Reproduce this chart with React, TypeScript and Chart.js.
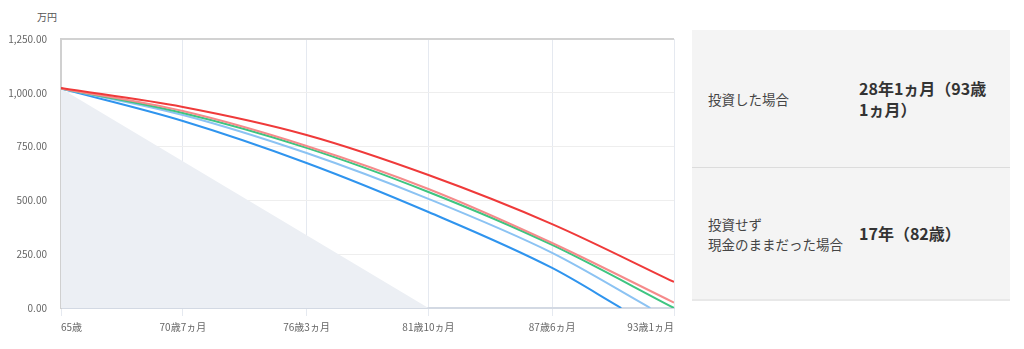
import React, { useEffect, useRef } from "react";
import { Chart, registerables } from "chart.js";

Chart.register(...registerables);

// ---- data ----
const tickMonths = [0, 67, 135, 202, 270, 337];
const tickLabels = ["65歳", "70歳7ヵ月", "76歳3ヵ月", "81歳10ヵ月", "87歳6ヵ月", "93歳1ヵ月"];
const yTicks = [0, 250, 500, 750, 1000, 1250];

const monthsFull = [0, 67, 135, 202, 270, 337];
const redValues = [1022, 934, 804, 618, 390, 121];
const pinkValues = [1020, 915, 753, 553, 302, 25];
const greenValues = [1020, 906, 744, 539, 293, 0];

const lightBlueMonths = [0, 67, 135, 202, 270, 324];
const lightBlueValues = [1020, 897, 720, 507, 256, 0];

const blueMonths = [0, 67, 135, 202, 270, 308];
const blueValues = [1020, 869, 674, 446, 186, 0];

const cashMonths = [0, 202];
const cashValues = [1020, 0];

const rows = [
  { label: ["投資した場合"], value: ["28年1ヵ月（93歳", "1ヵ月）"] },
  { label: ["投資せず", "現金のままだった場合"], value: ["17年（82歳）"] },
];

const pts = (xs: number[], ys: number[]) => xs.map((x, i) => ({ x, y: ys[i] }));

const FONT = "'Noto Sans CJK JP', 'Noto Sans', sans-serif";

export default function App() {
  const ref = useRef<HTMLCanvasElement | null>(null);

  useEffect(() => {
    if (!ref.current) return;
    const line = (data: any, color: string) => ({
      data,
      borderColor: color,
      borderWidth: 2,
      pointRadius: 0,
      fill: false,
      cubicInterpolationMode: "monotone" as const,
    });
    const chart = new Chart(ref.current, {
      type: "line",
      data: {
        datasets: [
          line(pts(monthsFull, redValues), "#ef3a3a"),
          line(pts(monthsFull, pinkValues), "#f58b8b"),
          line(pts(monthsFull, greenValues), "#3ec581"),
          line(pts(lightBlueMonths, lightBlueValues), "#8cc3f3"),
          line(pts(blueMonths, blueValues), "#2f94ee"),
          {
            data: pts(cashMonths, cashValues),
            borderWidth: 0,
            borderColor: "rgba(0,0,0,0)",
            backgroundColor: "#eceff4",
            pointRadius: 0,
            fill: "origin",
            tension: 0,
          },
        ],
      },
      options: {
        responsive: false,
        animation: false,
        events: [],
        layout: { padding: { top: 39, right: 26, bottom: 0, left: 0 } },
        plugins: { legend: { display: false }, tooltip: { enabled: false } },
        scales: {
          x: {
            type: "linear",
            min: tickMonths[0],
            max: tickMonths[tickMonths.length - 1],
            afterBuildTicks: (s: any) => {
              s.ticks = tickMonths.map((v) => ({ value: v }));
            },
            afterFit: (s: any) => {
              s.height = 41;
            },
            ticks: {
              autoSkip: false,
              maxRotation: 0,
              align: "inner",
              padding: 5,
              color: "#666",
              font: { family: FONT, size: 10 },
              callback: (v: any) => {
                const i = tickMonths.indexOf(Number(v));
                return i >= 0 ? tickLabels[i] : "";
              },
            },
            grid: {
              color: "#e5e9f0",
              tickColor: "#e5e9f0",
              tickLength: 8,
              lineWidth: 1,
            },
            border: { color: "#d3d9e3", width: 2 },
          },
          y: {
            min: yTicks[0],
            max: yTicks[yTicks.length - 1],
            afterBuildTicks: (s: any) => {
              s.ticks = yTicks.map((v) => ({ value: v }));
            },
            afterFit: (s: any) => {
              s.width = 61;
            },
            ticks: {
              padding: 14,
              color: "#666",
              font: { family: FONT, size: 10 },
              callback: (v: any) =>
                Number(v).toLocaleString("en-US", {
                  minimumFractionDigits: 2,
                  maximumFractionDigits: 2,
                }),
            },
            grid: {
              drawTicks: false,
              color: (c: any) => (c.tick && c.tick.value === 1250 ? "#d2d2d2" : "#eeeeee"),
              lineWidth: (c: any) => (c.tick && c.tick.value === 1250 ? 2 : 1),
            },
            border: { color: "#d0d0d0", width: 2 },
          },
        },
      },
    });
    return () => chart.destroy();
  }, []);

  return (
    <div
      style={{
        position: "fixed",
        left: 0,
        top: 0,
        width: 1024,
        height: 349,
        background: "#fff",
        fontFamily: FONT,
      }}
    >
      <div
        style={{
          position: "absolute",
          left: 37,
          top: 10,
          fontSize: 10,
          color: "#555",
          lineHeight: "14px",
        }}
      >
        万円
      </div>
      <canvas
        ref={ref}
        width={700}
        height={349}
        style={{ position: "absolute", left: 0, top: 0, width: 700, height: 349 }}
      />
      <div
        style={{
          position: "absolute",
          left: 692,
          top: 30,
          width: 318,
          background: "#f4f4f4",
        }}
      >
        {rows.map((r, i) => (
          <div
            key={i}
            style={{
              height: i === 0 ? 137 : 131,
              display: "flex",
              alignItems: "center",
              borderBottom: i === 0 ? "1px solid #dcdcdc" : "2px solid #e8e8e8",
            }}
          >
            <div
              style={{
                width: 167,
                flexShrink: 0,
                paddingLeft: 16,
                boxSizing: "border-box",
                fontSize: 13.5,
                lineHeight: "20px",
                color: "#444",
              }}
            >
              {r.label.map((t, j) => (
                <div key={j} style={{ whiteSpace: "nowrap" }}>{t}</div>
              ))}
            </div>
            <div
              style={{
                fontSize: 16,
                fontWeight: "bold",
                lineHeight: "21px",
                color: "#333",
              }}
            >
              {r.value.map((t, j) => (
                <div key={j} style={{ whiteSpace: "nowrap" }}>{t}</div>
              ))}
            </div>
          </div>
        ))}
      </div>
    </div>
  );
}
